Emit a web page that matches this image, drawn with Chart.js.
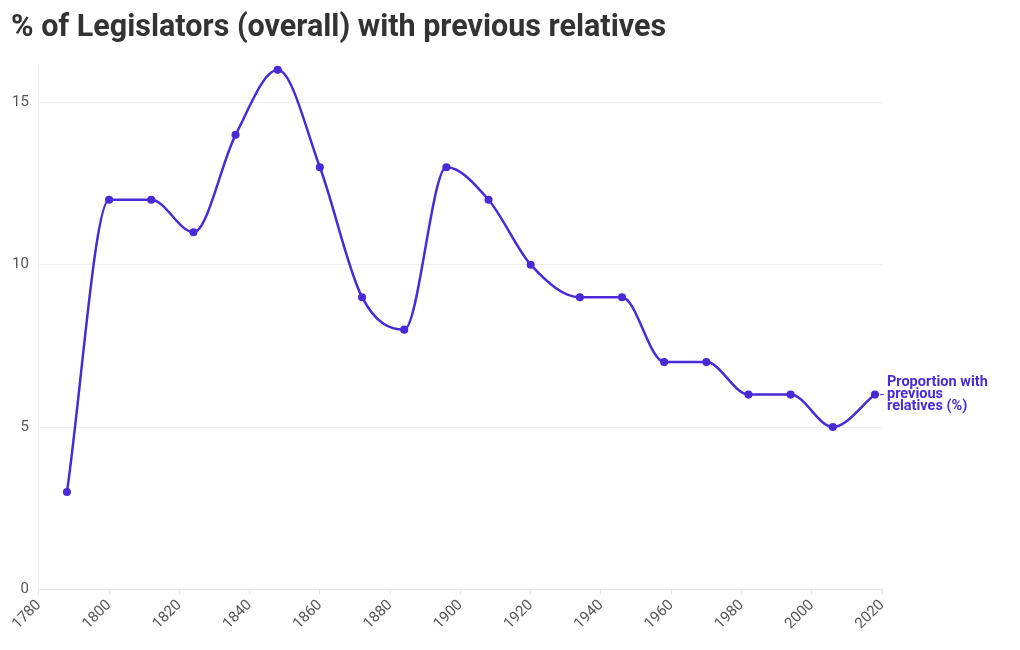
<!DOCTYPE html>
<html lang="en">
<head>
  <meta charset="UTF-8" />
  <title>% of Legislators (overall) with previous relatives</title>
  <style>
    body { margin: 0; background: #fff; }
    #wrap { position: relative; width: 1020px; height: 650px; }
    h1 {
      position: absolute;
      left: 11px;
      top: 8px;
      margin: 0;
      font: bold 30.5px Roboto, "Noto Sans", sans-serif;
      color: #333;
    }
  </style>
</head>
<body>
  <div id="wrap">
    <h1>% of Legislators (overall) with previous relatives</h1>
    <canvas id="chart"></canvas>
  </div>

  <script src="https://cdn.jsdelivr.net/npm/chart.js"></script>
  <script>
    // data
    const years = [1788, 1800, 1812, 1824, 1836, 1848, 1860, 1872, 1884, 1896,
                   1908, 1920, 1934, 1946, 1958, 1970, 1982, 1994, 2006, 2018];
    const share = [3, 12, 12, 11, 14, 16, 13, 9, 8, 13,
                   12, 10, 9, 9, 7, 7, 6, 6, 5, 6];
    const seriesLabel = ["Proportion with", "previous", "relatives (%)"];
    const yTicks = [0, 5, 10, 15];

    const purple = "#4a2ad6";
    const font = "Roboto, 'Noto Sans', sans-serif";

    // label next to the last point
    const endLabel = {
      id: "endLabel",
      afterDatasetsDraw(chart) {
        const meta = chart.getDatasetMeta(0);
        const last = meta.data[meta.data.length - 1];
        const ctx = chart.ctx;
        ctx.save();
        ctx.strokeStyle = purple;
        ctx.lineWidth = 1;
        ctx.beginPath();
        ctx.moveTo(last.x + 5, last.y);
        ctx.lineTo(last.x + 9, last.y);
        ctx.stroke();
        ctx.fillStyle = purple;
        ctx.font = "bold 14.5px " + font;
        ctx.textBaseline = "middle";
        seriesLabel.forEach((t, i) => {
          ctx.fillText(t, last.x + 12, last.y - 12 + i * 12);
        });
        ctx.restore();
      }
    };

    new Chart(document.getElementById("chart"), {
      type: "line",
      data: {
        datasets: [{
          label: seriesLabel.join(" "),
          data: years.map((y, i) => ({ x: y, y: share[i] })),
          borderColor: purple,
          backgroundColor: purple,
          borderWidth: 2.5,
          pointRadius: 2.8,
          pointHoverRadius: 4,
          cubicInterpolationMode: "monotone",
          fill: false
        }]
      },
      options: {
        responsive: true,
        maintainAspectRatio: false,
        animation: false,
        layout: { padding: { left: 2, right: 138, top: 65, bottom: 15 } },
        plugins: {
          legend: { display: false },
          tooltip: { enabled: false },
          title: { display: false }
        },
        scales: {
          x: {
            type: "linear",
            min: 1780,
            max: 2020,
            ticks: {
              stepSize: 20,
              minRotation: 45,
              maxRotation: 45,
              color: "#555",
              font: { family: font, size: 15 },
              padding: 2,
              callback: v => String(v)
            },
            grid: {
              drawOnChartArea: false,
              drawTicks: true,
              tickLength: 5,
              color: "#e6e6e6"
            },
            border: { color: "#e6e6e6" }
          },
          y: {
            min: 0,
            max: 16.15,
            afterBuildTicks: axis => {
              axis.ticks = yTicks.map(v => ({ value: v }));
            },
            ticks: {
              color: "#555",
              font: { family: font, size: 15 },
              padding: 10
            },
            grid: { drawTicks: false, color: "#eeeeee" },
            border: { color: "#eeeeee" }
          }
        }
      },
      plugins: [endLabel]
    });
  </script>
</body>
</html>
